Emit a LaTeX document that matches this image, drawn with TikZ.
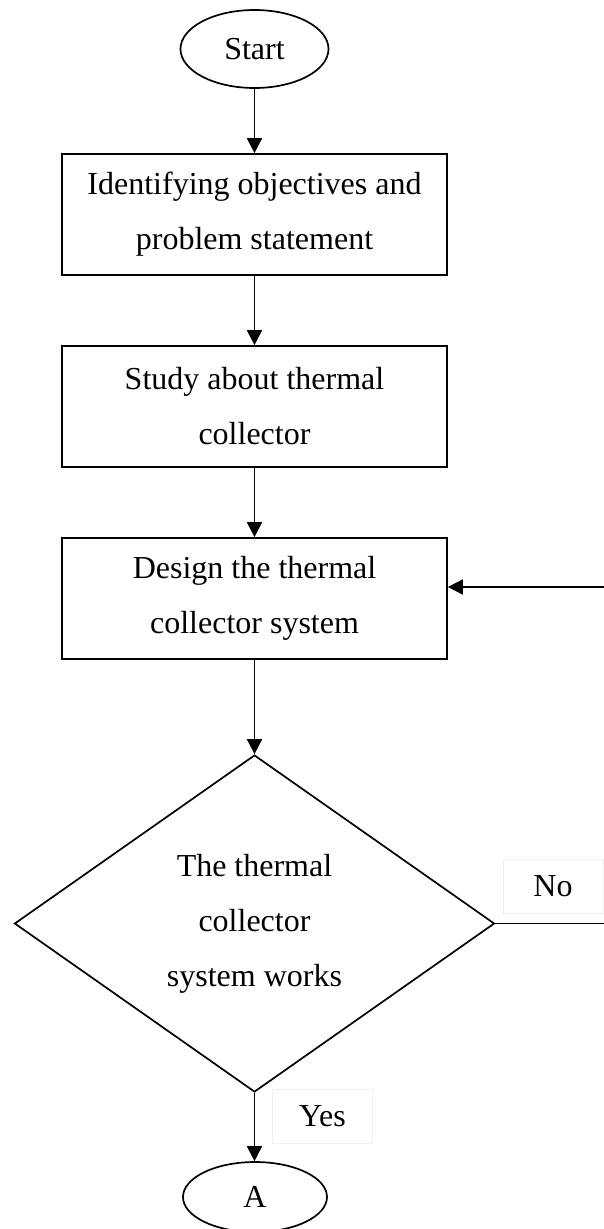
\documentclass[tikz,border=0pt]{standalone}
\usepackage{fontspec}
\setmainfont{Liberation Serif}
\usetikzlibrary{shapes.geometric,arrows.meta}
\begin{document}
\begin{tikzpicture}[x=1pt,y=-1pt,line width=1.7pt,
  font=\fontsize{32}{55}\selectfont,
  term/.style={draw,ellipse,inner sep=0pt},
  stepbox/.style={draw,rectangle,align=center,minimum width=385pt,minimum height=121pt},
  ask/.style={draw,diamond,align=center,inner sep=0pt,minimum width=480pt,minimum height=337pt},
  tag/.style={draw=black!6,line width=1pt,minimum width=100pt,minimum height=54pt},
  arr/.style={-{Triangle[length=15pt,width=15pt]}}]
\useasboundingbox (0,0) rectangle (603,1229);
\node[term,minimum width=148pt,minimum height=78pt] (start) at (254.5,49) {Start};
\node[stepbox] (ident) at (254.5,214.5) {Identifying objectives and\\problem statement};
\node[stepbox] (study) at (254.5,406.5) {Study about thermal\\collector};
\node[stepbox] (design) at (254.5,598.5) {Design the thermal\\collector system};
\node[ask] (works) at (254.5,923.5) {The thermal\\collector\\system works};
\node[tag] (no) at (553,886) {No};
\node[tag] (yes) at (322.5,1116) {Yes};
\node[term,minimum width=144pt,minimum height=70pt] (a) at (255,1197) {A};
\coordinate (back) at (610,587);
\draw[arr] (start) -- (ident);
\draw[arr] (ident) -- (study);
\draw[arr] (study) -- (design);
\draw[arr] (design) -- (works);
\draw[arr] (works.south) -- (works.south |- a.north);
\draw[arr] (works.east) -| (back) -- (back -| design.east);
\end{tikzpicture}
\end{document}
